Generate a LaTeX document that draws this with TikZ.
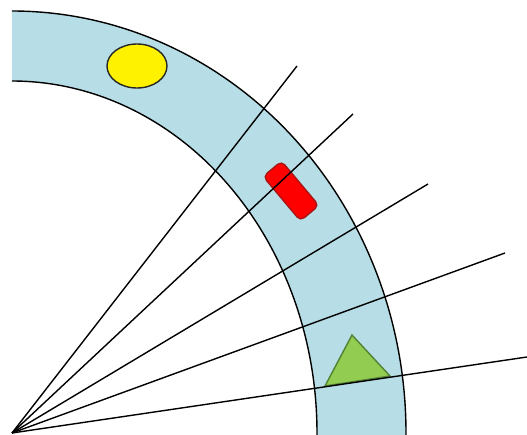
\documentclass[tikz,border=0pt]{standalone}
\definecolor{ringblue}{RGB}{183,222,230}
\definecolor{trigreen}{RGB}{146,204,80}
\definecolor{triedge}{RGB}{84,130,53}
\definecolor{rectedge}{RGB}{170,20,20}
\begin{document}
\begin{tikzpicture}[x=0.5pt,y=0.5pt,line width=0.7pt]
  \useasboundingbox (0,0) rectangle (527,435);
  \clip (0,0) rectangle (527,435);
  \coordinate (O) at (12,2);
  % ring
  \fill[ringblue] (O) ++(-3:394 and 422) arc[start angle=-3,end angle=90,x radius=394,y radius=422]
    -- ++(0,-70) arc[start angle=90,end angle=-3,x radius=305,y radius=352] -- cycle;
  \draw (O) ++(-3:394 and 422) arc[start angle=-3,end angle=90,x radius=394,y radius=422];
  \draw (O) ++(-3:305 and 352) arc[start angle=-3,end angle=90,x radius=305,y radius=352];
  % objects on the ring
  \fill[yellow,draw=black!85] (137,369) ellipse[x radius=30,y radius=22];
  \draw[fill=red,draw=rectedge,rounded corners=2.5pt,rotate around={-50:(291,244)}]
    (262,232) rectangle (320,256);
  \draw[fill=trigreen,draw=triedge] (352,100) -- (325,49) -- (390,59) -- cycle;
  % rays
  \foreach \i/\x/\y in {1/297/369,2/353/321,3/428/251,4/505/182,5/527/78}{
    \coordinate (e\i) at (\x,\y);
    \draw (O) -- (e\i);
  }
\end{tikzpicture}
\end{document}
